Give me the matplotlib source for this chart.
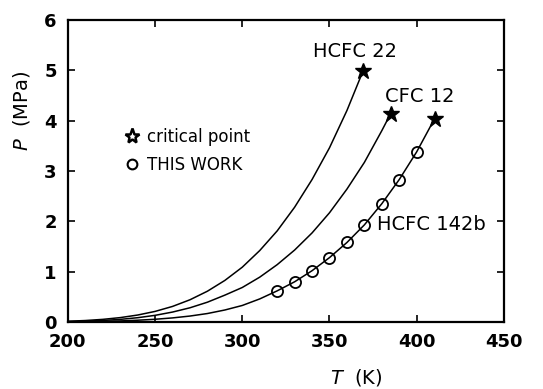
import numpy as np
import matplotlib
matplotlib.use('Agg')
import matplotlib.pyplot as plt
from matplotlib.lines import Line2D

# vapour pressure curves, T in K, P in MPa
t_r22 = [200, 210, 220, 230, 240, 250, 260, 270, 280, 290, 300, 310, 320, 330, 340, 350, 360, 369.3]
p_r22 = [0.017, 0.031, 0.054, 0.089, 0.140, 0.212, 0.311, 0.443, 0.613, 0.827, 1.09, 1.42, 1.81, 2.28, 2.83, 3.46, 4.20, 4.99]

t_r12 = [200, 210, 220, 230, 240, 250, 260, 270, 280, 290, 300, 310, 320, 330, 340, 350, 360, 370, 380, 385.1]
p_r12 = [0.0095, 0.018, 0.032, 0.054, 0.087, 0.134, 0.199, 0.284, 0.395, 0.535, 0.687, 0.892, 1.14, 1.43, 1.77, 2.17, 2.64, 3.17, 3.80, 4.14]

t_r142b = [200, 210, 220, 230, 240, 250, 260, 270, 280, 290, 300, 310, 320, 330, 340, 350, 360, 370, 380, 390, 400, 410.3]
p_r142b = [0.004, 0.008, 0.014, 0.023, 0.037, 0.056, 0.083, 0.12, 0.17, 0.24, 0.33, 0.46, 0.62, 0.80, 1.02, 1.28, 1.58, 1.93, 2.35, 2.83, 3.38, 4.04]

# this work (HCFC 142b measurements)
t_meas = [320, 330, 340, 350, 360, 370, 380, 390, 400]
p_meas = [0.62, 0.80, 1.02, 1.28, 1.58, 1.93, 2.35, 2.83, 3.38]

# critical points
t_crit = [369.3, 385.1, 410.3]
p_crit = [4.99, 4.14, 4.04]
names = ['HCFC 22', 'CFC 12', 'HCFC 142b']
name_pos = [(364.6, 5.37), (401.8, 4.47), (408.4, 1.94)]

xticks = [200, 250, 300, 350, 400, 450]
yticks = [0, 1, 2, 3, 4, 5, 6]


def main():
    fig = plt.figure(figsize=(5.43, 3.89), dpi=100)
    ax = fig.add_axes([0.125, 0.172, 0.803, 0.777])

    for t, p in [(t_r22, p_r22), (t_r12, p_r12), (t_r142b, p_r142b)]:
        ax.plot(t, p, color='black', lw=1.1)

    ax.plot(t_meas, p_meas, 'o', ms=8, mfc='none', mec='black', mew=1.3)
    ax.plot(t_crit, p_crit, '*', ms=12, color='black')

    for n, (x, y) in zip(names, name_pos):
        ax.text(x, y, n, fontsize=14, ha='center', va='center')

    handles = [Line2D([], [], marker='*', ls='none', ms=11, mfc='none', mec='black', mew=1.8),
               Line2D([], [], marker='o', ls='none', ms=7, mfc='none', mec='black', mew=1.5)]
    ax.legend(handles, ['critical point', 'THIS WORK'], loc='upper left',
              bbox_to_anchor=(0.098, 0.692), frameon=False, fontsize=12,
              handlelength=0.8, handletextpad=0.5, labelspacing=0.6)

    ax.set_xlim(200, 450)
    ax.set_ylim(0, 6)
    ax.set_xticks(xticks)
    ax.set_yticks(yticks)
    ax.tick_params(direction='in', top=True, right=True, length=5, width=1.2,
                   labelsize=13)
    ax.tick_params(axis='x', pad=8)
    ax.tick_params(axis='y', pad=8)
    for lab in ax.get_xticklabels() + ax.get_yticklabels():
        lab.set_fontweight('bold')
    for s in ax.spines.values():
        s.set_linewidth(1.6)

    fig.text(356 / 543, 1 - 378 / 389, r'$T$  (K)', fontsize=14, ha='center', va='center')
    fig.text(21 / 543, 1 - 111 / 389, r'$P$  (MPa)', fontsize=14, ha='center', va='center',
             rotation=90)

    plt.savefig('out.png', dpi=100)


main()
